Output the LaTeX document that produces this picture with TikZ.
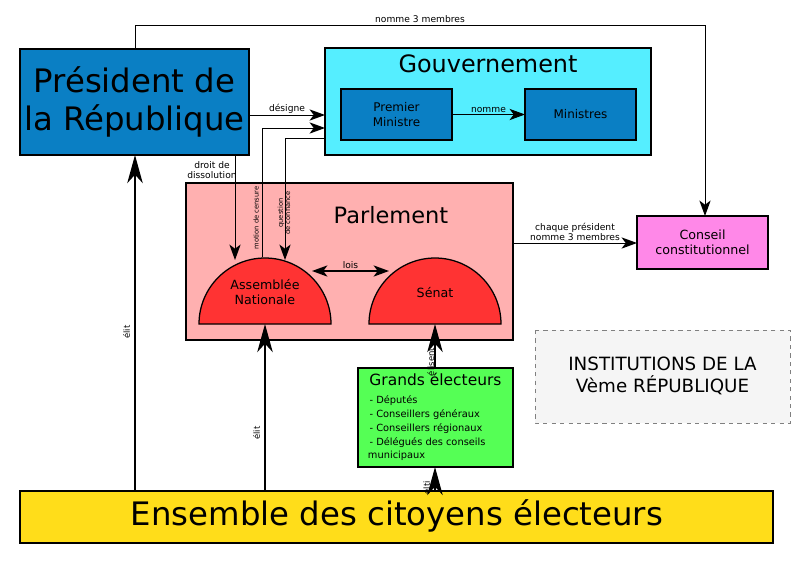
\documentclass[tikz,border=0pt]{standalone}
\usepackage{fontspec}
\setmainfont{DejaVu Sans}
\usetikzlibrary{arrows.meta, positioning}
\definecolor{bleu}{HTML}{0A7FC4}
\definecolor{cyan2}{HTML}{55EEFF}
\definecolor{rose}{HTML}{FFB0B0}
\definecolor{rouge}{HTML}{FF3333}
\definecolor{mauve}{HTML}{FF88E8}
\definecolor{vert}{HTML}{55FF55}
\definecolor{jaune}{HTML}{FFDD1A}

\begin{document}
\begin{tikzpicture}[
    x=0.025cm, y=-0.025cm,
    >={Stealth[length=11pt, width=8pt, inset=3pt]},
    box/.style={draw=black, line width=0.9pt},
    line/.style={->, line width=0.7pt},
    vote/.style={->, line width=1.5pt, >={Stealth[length=20pt, width=11pt, inset=6pt]}},
    lbl/.style={font=\fontsize{6.5}{7.5}\selectfont, inner sep=1pt},
    vlbl/.style={font=\fontsize{4.8}{5.3}\selectfont, rotate=90, inner sep=1pt, align=center}
]
\useasboundingbox (0,0) rectangle (800,566);

% boites
\filldraw[box, fill=bleu] (20,49) rectangle (249,155);
\node[font=\fontsize{23}{27}\selectfont, align=center] (pres) at (134.5,102) {Président de\\la République};
\coordinate (presS) at (135,155);
\filldraw[box, fill=cyan2] (325,48) rectangle (651,155);
\node[font=\fontsize{17}{19}\selectfont] (gouv) at (488,64) {Gouvernement};
\filldraw[box, fill=bleu] (341,89) rectangle (452,140);
\node[font=\fontsize{8.5}{10.5}\selectfont, align=center] (pm) at (396.5,114.5) {Premier\\Ministre};
\filldraw[box, fill=bleu] (525,89) rectangle (636,140);
\node[font=\fontsize{8.5}{10.5}\selectfont] (min) at (580.5,114.5) {Ministres};
\filldraw[box, fill=rose] (186,183) rectangle (513,340);
\node[font=\fontsize{16}{18}\selectfont] (parl) at (391,215) {Parlement};
\filldraw[box, fill=mauve] (637,216) rectangle (768,269);
\node[font=\fontsize{9}{11}\selectfont, align=center] (cc) at (702.5,242.5) {Conseil\\constitutionnel};
\filldraw[draw=gray, dashed, fill=gray!8] (535,330) rectangle (790,423);
\node[font=\fontsize{13}{16}\selectfont, align=center] (titre) at (662.5,376) {INSTITUTIONS DE LA\\Vème RÉPUBLIQUE};
\filldraw[box, fill=vert] (358,368) rectangle (513,467);
\node[font=\fontsize{11}{12}\selectfont] (ge) at (435.5,379) {Grands électeurs};
\node[font=\fontsize{7}{9.8}\selectfont, align=left, anchor=north west] (geliste) at (363,391)
  {\,- Députés\\\,- Conseillers généraux\\\,- Conseillers régionaux\\\,- Délégués des conseils\\municipaux};
\filldraw[box, fill=jaune] (20,491) rectangle (773,543);
\node[font=\fontsize{23}{27}\selectfont] (ens) at (397,516) {Ensemble des citoyens électeurs};

% chambres
\filldraw[box, fill=rouge] (199,324) arc (180:360:66) -- cycle;
\node[font=\fontsize{9}{11}\selectfont, align=center] (an) at (265,292) {Assemblée\\Nationale};
\filldraw[box, fill=rouge] (369,324) arc (180:360:66) -- cycle;
\node[font=\fontsize{9}{11}\selectfont] (senat) at (435,293) {Sénat};
\coordinate (anS) at (265,324);
\coordinate (senS) at (435,324);
\coordinate (anL) at (312,271);
\coordinate (senL) at (389,271);

% connexions
\draw[line] (135,49) -- (135,25) -- node[lbl, above] {nomme 3 membres} (705,25) -- (705,216);
\draw[line] (249,115) -- node[lbl, above] {désigne} (325,115);
\draw[line] (452,114.5) -- node[lbl, above] {nomme} (525,114.5);
\draw[line] (235,155) -- (235,260);
\node[lbl, align=center] (dissol) at (212,170) {droit de\\dissolution};
\draw[line] (262,257) -- (262,128) -- (325,128);
\node[vlbl] (censure) at (256,218) {motion de censure};
\draw[line] (325,138) -- (285,138) -- (285,260);
\node[vlbl] (confiance) at (284,213) {question\\de confiance};
\draw[<->, line width=1pt] (anL) -- node[lbl, above] {lois} (senL);
\draw[line] (513,243) -- node[lbl, above, align=center] {chaque président\\nomme 3 membres} (637,243);

\draw[vote] (135,491) -- node[vlbl, font=\fontsize{6}{6}\selectfont, left=6pt] {élit} (presS);
\draw[vote] (265,491) -- node[vlbl, font=\fontsize{6}{6}\selectfont, left=6pt, pos=0.4] {élit} (anS);
\draw[vote, line width=0.9pt] (435,368) -- node[vlbl, font=\fontsize{6}{6}\selectfont, left=3pt] {élisent} (senS);
\draw[vote, line width=0.9pt] (435,491) -- node[vlbl, font=\fontsize{6}{6}\selectfont, left=6pt] {élti} (435,467);
\end{tikzpicture}
\end{document}
